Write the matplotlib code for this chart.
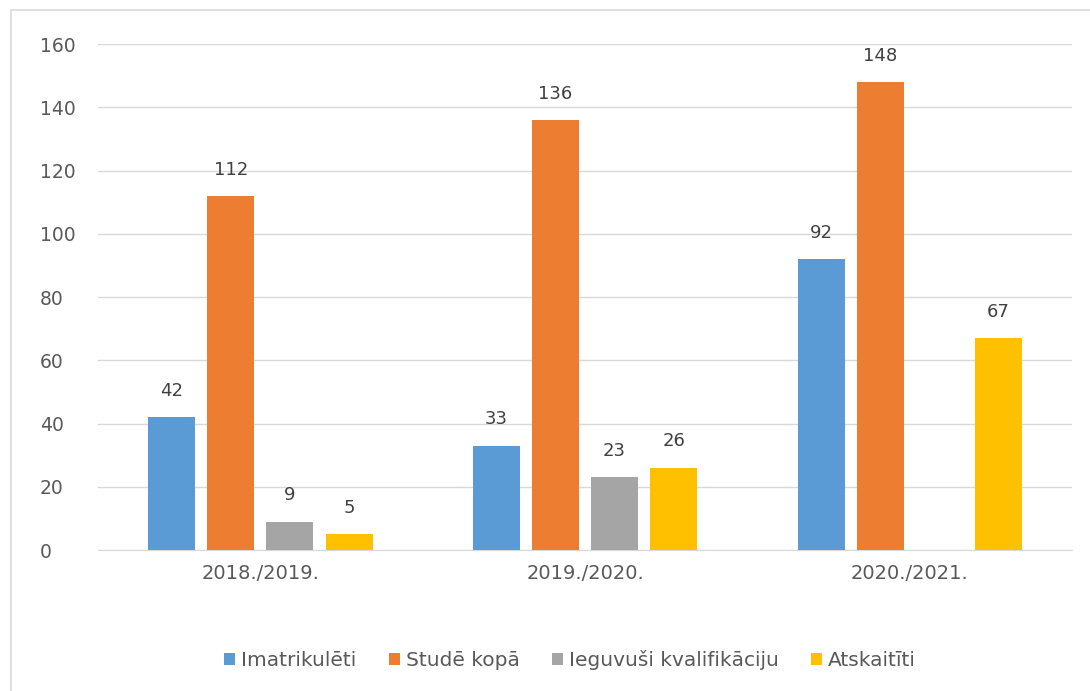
import numpy as np
import matplotlib.pyplot as plt
from matplotlib.patches import Rectangle

plt.rcParams['font.family'] = ['DejaVu Sans']

### Données
gadi = ["2018./2019.", "2019./2020.", "2020./2021."]
imatrikuleti = [42, 33, 92]
stude_kopa = [112, 136, 148]
ieguvusi = [9, 23, np.nan]
atskaititi = [5, 26, 67]

series = [
    ("Imatrikulēti", imatrikuleti, "#5B9BD5"),
    ("Studē kopā", stude_kopa, "#ED7D31"),
    ("Ieguvuši kvalifikāciju", ieguvusi, "#A5A5A5"),
    ("Atskaitīti", atskaititi, "#FFC000"),
]

txt = "#595959"

fig = plt.figure(figsize=(10.9, 6.91), dpi=100)
ax = fig.add_axes([0.09, 0.204, 0.8935, 0.732])

x = np.arange(len(gadi))
pas = 0.182
larg = 0.145
for k, (nom, vals, c) in enumerate(series):
    pos = x + (k - 1.5) * pas
    ax.bar(pos, vals, width=larg, color=c, label=nom, zorder=3)
    for xi, v in zip(pos, vals):
        if not np.isnan(v):
            ax.text(xi, v + 5.5, "%d" % v, ha="center", va="bottom",
                    fontsize=13, color="#404040")

ax.set_xlim(-0.5, 2.5)
ax.set_ylim(0, 160)
ax.set_yticks(range(0, 161, 20))
ax.set_xticks(x)
ax.set_xticklabels(gadi)
ax.tick_params(length=0, colors=txt)
ax.tick_params(axis="y", pad=42, labelsize=13.5)
ax.tick_params(axis="x", pad=10, labelsize=14)
for lab in ax.get_yticklabels():
    lab.set_horizontalalignment("left")
ax.grid(axis="y", color="#D9D9D9", linewidth=1, zorder=0)
for s in ["top", "right", "left"]:
    ax.spines[s].set_visible(False)
ax.spines["bottom"].set_color("#D9D9D9")

fig.legend(loc="center", bbox_to_anchor=(0.523, 0.045), ncol=4, frameon=False,
           fontsize=14.5, handlelength=0.55, handleheight=0.55, handletextpad=0.3,
           columnspacing=1.6, labelcolor=txt)

# cadre du graphique
fig.patches.append(Rectangle((11 / 1090, -0.1), 1.2, 1.1 - 10 / 691,
                             transform=fig.transFigure, fill=False,
                             edgecolor="#D9D9D9", linewidth=1.2))

fig.savefig("out.png", dpi=100)
